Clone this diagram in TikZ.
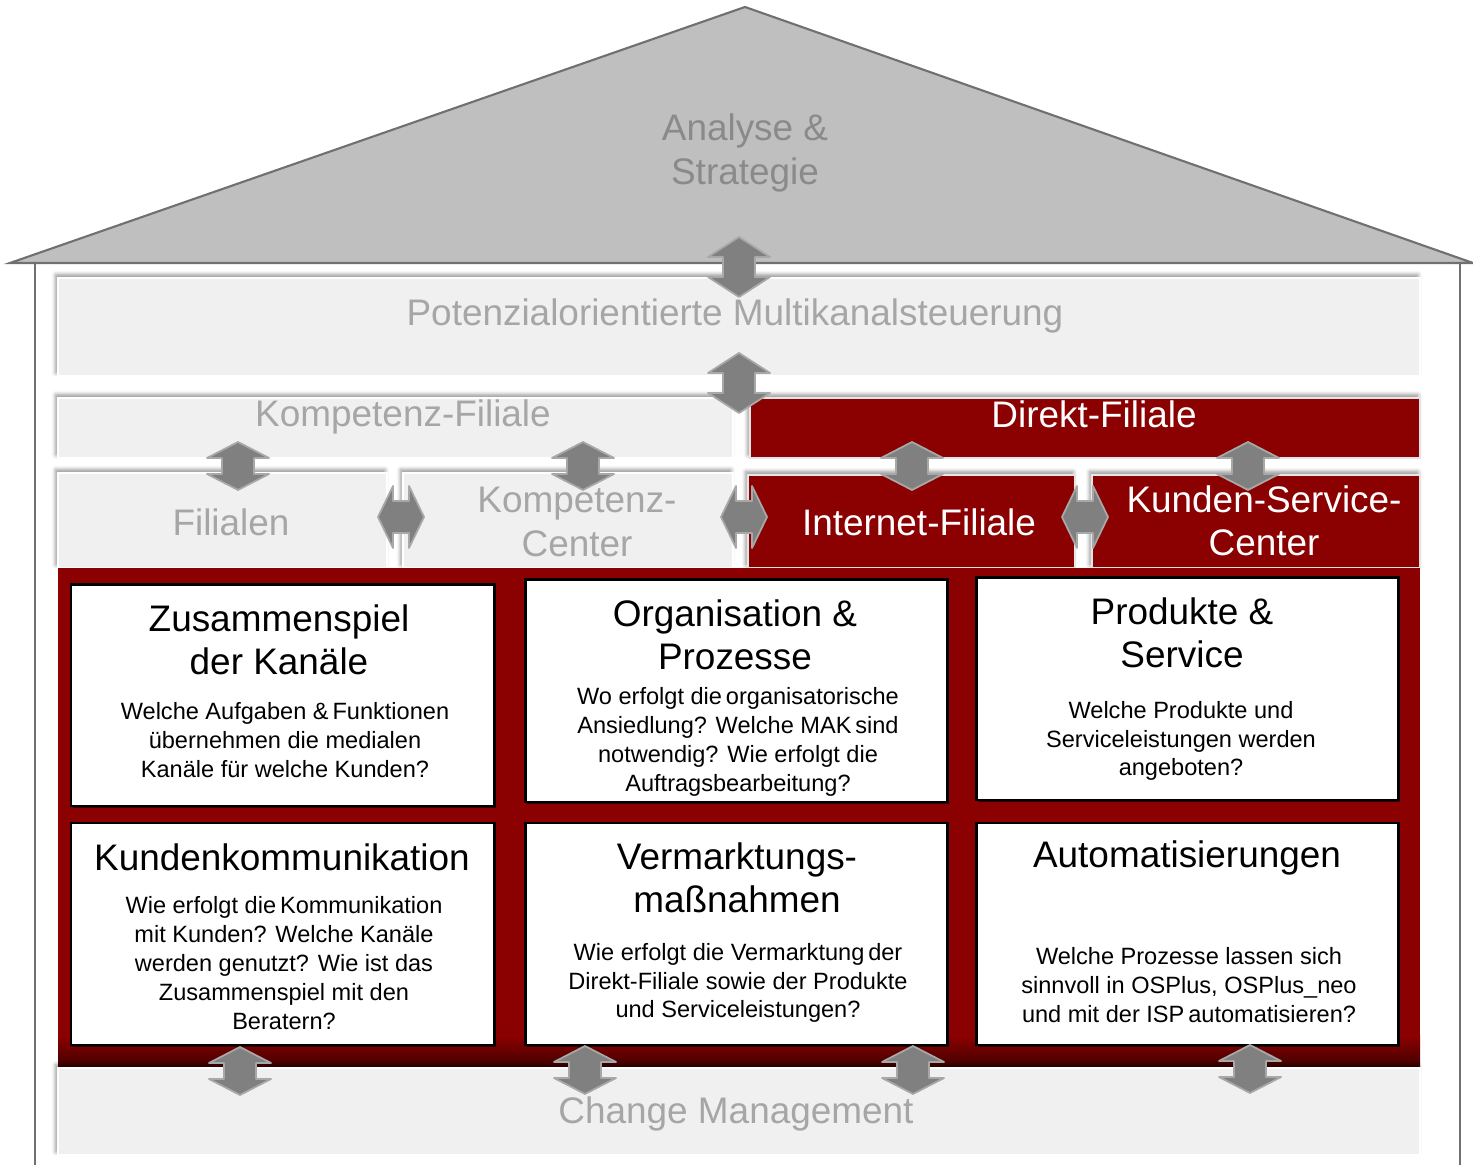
\documentclass[tikz,border=0pt]{standalone}
\usepackage{fontspec}
\setmainfont{Liberation Sans}
\usetikzlibrary{fit,shadows,shadows.blur}

\definecolor{darkred}{RGB}{139,0,0}
\definecolor{roofgray}{RGB}{191,191,191}
\definecolor{linegray}{RGB}{112,112,112}
\definecolor{bandgray}{RGB}{240,240,240}
\definecolor{bandtext}{RGB}{166,166,166}
\definecolor{rooftext}{RGB}{138,138,138}
\definecolor{arrowfill}{RGB}{128,128,128}
\definecolor{arrowedge}{RGB}{168,168,168}

\tikzset{
  updown/.pic={\draw[arrowstyle] (0,-30) -- (31,-10) -- (16,-10) -- (16,10) -- (31,10) -- (0,30)
      -- (-31,10) -- (-16,10) -- (-16,-10) -- (-31,-10) -- cycle;
    \coordinate (-c) at (0,0);},
  leftright/.pic={\draw[arrowstyle] (-23,0) -- (-8,-31) -- (-8,-16) -- (8,-16) -- (8,-31) -- (23,0)
      -- (8,31) -- (8,16) -- (-8,16) -- (-8,31) -- cycle;
    \coordinate (-c) at (0,0);},
}

\begin{document}
\begin{tikzpicture}[x=0.01cm, y=-0.01cm,
    band/.style={fill=bandgray, draw=white, line width=0.4pt, inner sep=0pt,
      blur shadow={shadow xshift=-0.6pt, shadow yshift=0.9pt, shadow blur radius=1.2pt, shadow opacity=45}},
    redband/.style={fill=darkred, draw=white!80!gray, line width=0.4pt, inner sep=0pt,
      blur shadow={shadow xshift=-0.6pt, shadow yshift=0.9pt, shadow blur radius=1.2pt, shadow opacity=45}},
    qbox/.style={fill=white, draw=black, line width=0.85pt, inner sep=0pt,
      drop shadow={shadow xshift=0.5pt, shadow yshift=-0.5pt, fill=black, opacity=.6}},
    big/.style={font=\fontsize{10.5}{12.4}\selectfont, align=center, inner sep=0pt},
    small/.style={font=\fontsize{6.7}{8.2}\selectfont, align=center, inner sep=0pt},
    arrowstyle/.style={fill=arrowfill, draw=arrowedge, line width=0.5pt, line join=round}]

  \useasboundingbox (0,0) rectangle (1473,1165);

  % house
  \draw[fill=roofgray, draw=linegray, line width=0.6pt] (10,263) -- (745,7) -- (1473,263) -- cycle;
  \draw[linegray, line width=0.6pt] (35,263) -- (35,1165);
  \draw[linegray, line width=0.6pt] (1460,263) -- (1460,1165);
  \node[big, text=rooftext] (analyse) at (745,153) {Analyse \&\\Strategie};

  % bands
  \node[band, fit={(58,278) (1420,376)}] (potenzial) {};
  \node[band, fit={(58,398) (733,458)}] (kompfil) {};
  \node[redband, fit={(750,398) (1420,458)}] (direkt) {};
  \node[band, fit={(58,473) (387,568)}] (filialen) {};
  \node[band, fit={(403,473) (733,568)}] (kompcenter) {};
  \node[redband, fit={(748,475) (1075,568)}] (internet) {};
  \node[redband, fit={(1092,475) (1420,568)}] (kunden) {};
  \node[fill=darkred, inner sep=0pt, fit={(58,568) (1420,1068)}] (basis) {};
  \shade[top color=darkred, bottom color=darkred!45!black] (58,1036) rectangle (1420,1068);
  \node[band, fit={(58,1068) (1420,1155)}] (change) {};

  \node[big, text=bandtext] (tpot) at (735,316) {Potenzialorientierte Multikanalsteuerung};
  \node[big, text=bandtext] (tkompfil) at (403,417) {Kompetenz-Filiale};
  \node[big, text=white] (tdirekt) at (1094,414) {Direkt-Filiale};
  \node[big, text=bandtext] (tfilialen) at (231,522) {Filialen};
  \node[big, text=bandtext] (tkompcenter) at (577,522) {Kompetenz-\\Center};
  \node[big, text=white] (tinternet) at (919,522) {Internet-Filiale};
  \node[big, text=white] (tkunden) at (1264,521) {Kunden-Service-\\Center};
  \node[big, text=bandtext] (tchange) at (736,1114) {Change Management};

  % question boxes
  \node[qbox, fit={(71,585) (494,806)}] (q1) {};
  \node[qbox, fit={(525,580) (947,802)}] (q2) {};
  \node[qbox, fit={(976,578) (1398,800)}] (q3) {};
  \node[qbox, fit={(71,823) (494,1045)}] (q4) {};
  \node[qbox, fit={(525,823) (947,1045)}] (q5) {};
  \node[qbox, fit={(976,823) (1398,1045)}] (q6) {};

  \node[big] (h1) at (279,640) {Zusammenspiel\\der Kanäle};
  \node[small] (b1) at (285,740) {Welche Aufgaben \&\,Funktionen\\übernehmen die medialen\\Kanäle für welche Kunden?};
  \node[big] (h2) at (735,635) {Organisation \&\\Prozesse};
  \node[small] (b2) at (738,742) {Wo erfolgt die\,organisatorische\\Ansiedlung? Welche MAK\,sind\\notwendig? Wie erfolgt die\\Auftragsbearbeitung?};
  \node[big] (h3) at (1182,633) {Produkte \&\\Service};
  \node[small] (b3) at (1181,741) {Welche Produkte und\\Serviceleistungen werden\\angeboten?};
  \node[big] (h4) at (282,857) {Kundenkommunikation};
  \node[small] (b4) at (284,963) {Wie erfolgt die\,Kommunikation\\mit Kunden? Welche Kanäle\\werden genutzt? Wie ist das\\Zusammenspiel mit den\\Beratern?};
  \node[big] (h5) at (737,878) {Vermarktungs-\\maßnahmen};
  \node[small] (b5) at (738,983) {Wie erfolgt die Vermarktung\,der\\Direkt-Filiale sowie der Produkte\\und Serviceleistungen?};
  \node[big] (h6) at (1187,858) {Automatisierungen};
  \node[small] (b6) at (1189,985) {Welche Prozesse lassen sich\\sinnvoll in OSPlus, OSPlus\_neo\\und mit der ISP\,automatisieren?};

  % double arrows
  \pic (a1) at (739,267) {updown};
  \pic (a2) at (739,383) {updown};
  \pic[yscale=0.8] (a3) at (238,466) {updown};
  \pic[yscale=0.8] (a4) at (583,466) {updown};
  \pic[yscale=0.8] (a5) at (912,466) {updown};
  \pic[yscale=0.8] (a6) at (1248,466) {updown};
  \pic (a7) at (401,517) {leftright};
  \pic (a8) at (744,517) {leftright};
  \pic (a9) at (1085,517) {leftright};
  \pic[yscale=0.8] (a10) at (240,1071) {updown};
  \pic[yscale=0.8] (a11) at (585,1070) {updown};
  \pic[yscale=0.8] (a12) at (913,1070) {updown};
  \pic[yscale=0.8] (a13) at (1250,1069) {updown};
\end{tikzpicture}
\end{document}
